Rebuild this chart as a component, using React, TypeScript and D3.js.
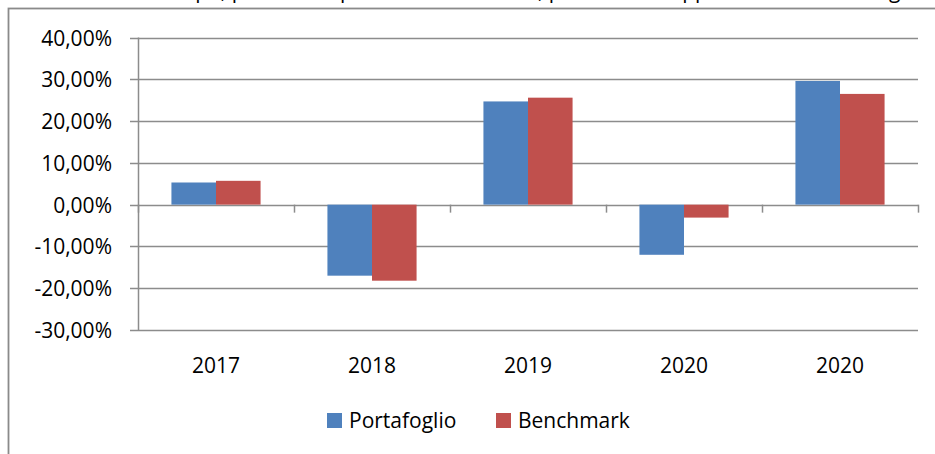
import React, { useEffect, useRef } from 'react';
import * as d3 from 'd3';

const categories = ['2017', '2018', '2019', '2020', '2020'];
const portafoglio = [5.3, -17.0, 24.7, -12.0, 29.6];
const benchmark = [5.7, -18.2, 25.6, -3.1, 26.5];
const seriesNames = ['Portafoglio', 'Benchmark'];
const seriesColors = ['#4F81BD', '#C0504D'];
const yTicks = [-30, -20, -10, 0, 10, 20, 30, 40];
const headerText = 'Il rendimento nel tempo, per tutto il periodo considerato, può essere rappresentato come segue';

const W = 935;
const H = 454;
const font = "'Open Sans', 'Noto Sans', sans-serif";

export default function App() {
  const ref = useRef<SVGSVGElement>(null);

  useEffect(() => {
    const svg = d3.select(ref.current);
    svg.selectAll('*').remove();

    // cropped line of text above the chart
    svg.append('text')
      .attr('x', 925)
      .attr('y', -2)
      .attr('text-anchor', 'end')
      .attr('font-family', font)
      .attr('font-size', 21)
      .attr('fill', '#000')
      .text(headerText);

    // chart frame
    svg.append('rect')
      .attr('x', 8.5).attr('y', 8.5)
      .attr('width', W + 20).attr('height', H + 20)
      .attr('fill', 'none')
      .attr('stroke', '#8a8a8a')
      .attr('stroke-width', 1.8);

    const left = 138, right = 918, top = 37.5, bottom = 330;

    const x = d3.scaleBand<number>()
      .domain(categories.map((_, i) => i))
      .range([left, right]);

    const y = d3.scaleLinear().domain([-30, 40]).range([bottom, top]);

    const inner = d3.scaleBand<number>()
      .domain([0, 1])
      .range([0, x.bandwidth()])
      .paddingOuter(0.75)
      .paddingInner(0);

    const g = svg.append('g');

    // gridlines + y ticks
    g.selectAll('.grid')
      .data(yTicks)
      .join('line')
      .attr('x1', left - 8)
      .attr('x2', right)
      .attr('y1', d => Math.round(y(d)) + 0.5)
      .attr('y2', d => Math.round(y(d)) + 0.5)
      .attr('stroke', '#8c8c8c')
      .attr('stroke-width', 1.5);

    g.selectAll('.ylab')
      .data(yTicks)
      .join('text')
      .attr('x', 112)
      .attr('y', d => y(d) + 8)
      .attr('text-anchor', 'end')
      .attr('font-family', font)
      .attr('font-size', 21)
      .attr('fill', '#000')
      .text(d => d3.format('.2f')(d).replace('.', ',').replace('\u2212', '-') + '%');

    // y axis line
    g.append('line')
      .attr('x1', left + 0.5).attr('x2', left + 0.5)
      .attr('y1', y(40)).attr('y2', y(-30))
      .attr('stroke', '#8c8c8c')
      .attr('stroke-width', 1.5);

    // bars
    const series = [portafoglio, benchmark];
    series.forEach((vals, s) => {
      g.selectAll('.bar' + s)
        .data(vals)
        .join('rect')
        .attr('x', (_, i) => (x(i) as number) + (inner(s) as number))
        .attr('width', inner.bandwidth())
        .attr('y', d => y(Math.max(0, d)))
        .attr('height', d => Math.abs(y(d) - y(0)))
        .attr('fill', seriesColors[s]);
    });

    // category ticks on zero line
    const tickXs = categories.map((_, i) => x(i) as number).concat([right]);
    g.selectAll('.xtick')
      .data(tickXs)
      .join('line')
      .attr('x1', d => d + 0.5).attr('x2', d => d + 0.5)
      .attr('y1', y(0)).attr('y2', y(0) + 8)
      .attr('stroke', '#8c8c8c')
      .attr('stroke-width', 1.5);

    g.selectAll('.xlab')
      .data(categories)
      .join('text')
      .attr('x', (_, i) => (x(i) as number) + x.bandwidth() / 2)
      .attr('y', 373)
      .attr('text-anchor', 'middle')
      .attr('font-family', font)
      .attr('font-size', 21)
      .attr('fill', '#000')
      .text(d => d);

    // legend
    const legendX = [327, 496];
    seriesNames.forEach((name, s) => {
      svg.append('rect')
        .attr('x', legendX[s]).attr('y', 413)
        .attr('width', 15).attr('height', 15)
        .attr('fill', seriesColors[s]);
      svg.append('text')
        .attr('x', legendX[s] + 22)
        .attr('y', 428)
        .attr('font-family', font)
        .attr('font-size', 21)
        .attr('fill', '#000')
        .text(name);
    });
  }, []);

  return (
    <div style={{ position: 'absolute', left: 0, top: 0 }}>
      <svg ref={ref} width={W} height={H} style={{ display: 'block', background: '#fff' }} />
    </div>
  );
}
